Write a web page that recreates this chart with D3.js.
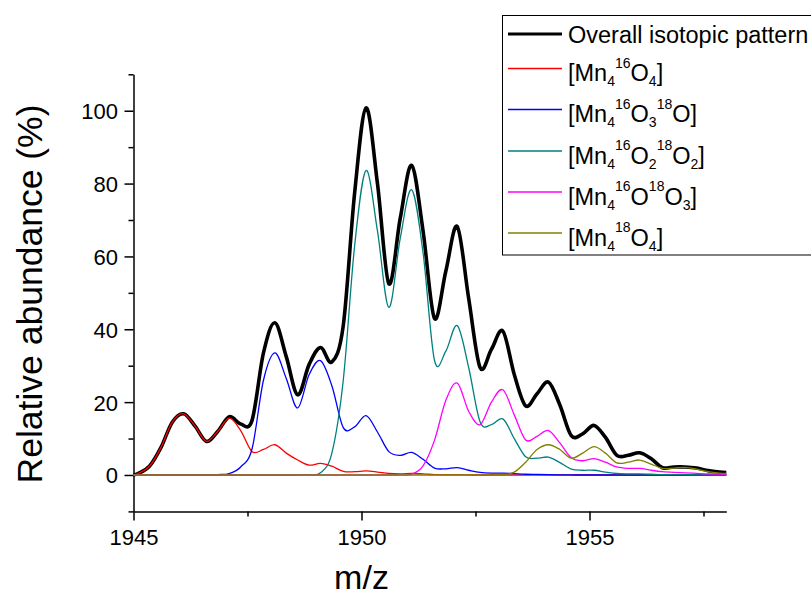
<!DOCTYPE html>
<html><head><meta charset="utf-8">
<script src="https://cdn.jsdelivr.net/npm/d3@7"></script>
<style>body{margin:0;background:#fff}svg{display:block}text{font-family:"Liberation Sans",Arial,sans-serif}</style>
</head><body>
<svg id="chart" width="811" height="595"></svg>
<script>
// m/z sample positions
const mz = [1945,
 1945.1,1945.35,1945.6,1945.85, 1946.1,1946.35,1946.6,1946.85,
 1947.1,1947.35,1947.6,1947.85, 1948.1,1948.35,1948.6,1948.85,
 1949.1,1949.35,1949.6,1949.85, 1950.1,1950.35,1950.6,1950.85,
 1951.1,1951.35,1951.6,1951.85, 1952.1,1952.35,1952.6,1952.85,
 1953.1,1953.35,1953.6,1953.85, 1954.1,1954.35,1954.6,1954.85,
 1955.1,1955.35,1955.6,1955.85, 1956.1,1956.35,1956.6,1956.85,
 1957.1,1957.35,1957.6,1957.85, 1958];

const overall = [0.1,
 0.4,2.4,7.5,14.5, 16.8,13.4,9.2,12.0,
 16.0,14.0,15.0,33.5, 41.8,32.5,22.0,30.3,
 35.0,31.0,41.0,77.5, 100.8,80.0,52.5,70.5,
 85.0,67.0,43.0,56.0, 68.2,48.5,29.5,34.5,
 39.5,27.6,19.0,22.3, 25.5,19.2,10.8,11.3,
 13.6,10.3,5.4,5.4, 6.1,4.5,2.0,2.2,
 2.2,1.9,1.2,0.8, 0.7];

const mn4_16O4 = [0.1,
 0.4,2.4,7.5,14.5, 16.8,13.4,9.2,12.0,
 15.6,12.2,6.4,7.0, 8.3,6.0,4.1,2.7,
 3.2,2.4,1.0,0.9, 1.1,0.8,0.4,0.3,
 0.4,0.3,0.1,0.05, 0.05,0,0,0,
 0,0,0,0, 0,0,0,0,
 0,0,0,0, 0,0,0,0,
 0,0,0,0, 0];

const mn4_16O3_18O = [0,
 0,0,0,0, 0,0,0,0.1,
 0.4,2.2,7.2,26.0, 33.5,26.5,18.4,27.5,
 31.4,24.5,13.0,13.2, 16.3,11.8,6.4,5.4,
 6.2,4.3,1.9,1.7, 2.0,1.3,0.7,0.5,
 0.5,0.35,0.2,0.15, 0.1,0.05,0,0,
 0,0,0,0, 0,0,0,0,
 0,0,0,0, 0];

const mn4_16O2_18O2 = [0,
 0,0,0,0, 0,0,0,0,
 0,0,0,0, 0,0,0,0.1,
 0.6,6.0,26.0,63.0, 83.6,67.0,46.0,65.0,
 78.3,61.0,31.5,34.0, 41.0,29.5,14.6,13.8,
 15.4,10.0,5.0,4.6, 4.9,3.4,1.6,1.3,
 1.3,0.8,0.4,0.3, 0.3,0.2,0.1,0.1,
 0.1,0.05,0,0, 0];

const mn4_16O_18O3 = [0,
 0,0,0,0, 0,0,0,0,
 0,0,0,0, 0,0,0,0,
 0,0,0,0, 0,0,0,0,
 0.2,2.5,9.5,20.5, 25.2,17.5,13.8,20.0,
 23.4,16.5,9.6,10.6, 12.2,8.8,4.7,3.9,
 4.5,3.5,2.2,1.8, 1.8,1.3,0.9,0.7,
 0.6,0.45,0.3,0.25, 0.2];

const mn4_18O4 = [0,
 0,0,0,0, 0,0,0,0,
 0,0,0,0, 0,0,0,0,
 0,0,0,0, 0,0,0,0,
 0,0,0,0, 0,0,0,0,
 0.1,0.8,3.5,7.0, 8.3,7.0,4.6,6.0,
 7.8,6.0,3.3,3.5, 4.1,3.0,1.8,1.9,
 2.1,1.6,0.9,0.5, 0.4];

const xTicks = [1945, 1950, 1955];
const xMinor = [1947.5, 1952.5, 1957.5];
const yTicks = [0, 20, 40, 60, 80, 100];
const yMinor = [-10, 10, 30, 50, 70, 90, 110];

const series = [
  {name: "overall", values: overall, color: "#000000", width: 3.6},
  {name: "16O4", values: mn4_16O4, color: "#ff0000", width: 1.3},
  {name: "16O3 18O", values: mn4_16O3_18O, color: "#0000ff", width: 1.3},
  {name: "16O2 18O2", values: mn4_16O2_18O2, color: "#008080", width: 1.3},
  {name: "16O 18O3", values: mn4_16O_18O3, color: "#ff00ff", width: 1.3},
  {name: "18O4", values: mn4_18O4, color: "#808000", width: 1.3}
];

const svg = d3.select("#chart");
const x = d3.scaleLinear().domain([1945, 1958]).range([133.5, 726.3]);
const y = d3.scaleLinear().domain([-10, 110]).range([511.4, 74.3]);

const xAx = svg.append("g").attr("transform", `translate(0,${y(-10)})`)
  .call(d3.axisBottom(x).tickValues(xTicks).tickSize(9).tickSizeOuter(0).tickFormat(d3.format("d")));
const xAxMinor = svg.append("g").attr("transform", `translate(0,${y(-10)})`)
  .call(d3.axisBottom(x).tickValues(xMinor).tickSize(5).tickSizeOuter(0).tickFormat(""));
const yAx = svg.append("g").attr("transform", `translate(${x(1945)},0)`)
  .call(d3.axisLeft(y).tickValues(yTicks).tickSize(9).tickSizeOuter(0));
const yAxMinor = svg.append("g").attr("transform", `translate(${x(1945)},0)`)
  .call(d3.axisLeft(y).tickValues(yMinor).tickSize(5).tickSizeOuter(0).tickFormat(""));
[xAx, xAxMinor, yAx, yAxMinor].forEach(g => {
  g.selectAll("path,line").attr("stroke", "#000").attr("stroke-width", 1.5);
  g.selectAll("text").attr("fill", "#000").style("font-size", "22px")
   .style("font-family", "'Liberation Sans', Arial, sans-serif");
});
xAx.selectAll("text").attr("y", 0).attr("dy", "34px");
xAxMinor.select(".domain").remove();
yAxMinor.select(".domain").remove();
yAx.selectAll("text").attr("x", -15.5).attr("dy", "0.36em");

// axis titles
svg.append("text").attr("x", x(1950)).attr("y", 589).attr("text-anchor", "middle")
  .style("font-size", "34px").text("m/z");
svg.append("text").attr("transform", `translate(42,294) rotate(-90)`)
  .attr("text-anchor", "middle").style("font-size", "35.5px").text("Relative abundance (%)");

// lines
const line = d3.line().x((d, i) => x(mz[i])).y(d => y(d)).curve(d3.curveCardinal.tension(0));
svg.append("g").selectAll("path").data(series).join("path")
  .attr("fill", "none")
  .attr("stroke", d => d.color)
  .attr("stroke-width", d => d.width)
  .attr("stroke-linejoin", "round")
  .attr("d", d => line(d.values));

// legend
const lg = svg.append("g");
lg.append("rect").attr("x", 502.5).attr("y", 15.5).attr("width", 320).attr("height", 239.5)
  .attr("fill", "#fff").attr("stroke", "#000").attr("stroke-width", 1);
const rowsY = [34, 68.5, 109.5, 151, 192, 233];
const labels = [
  [["Overall isotopic pattern", 0]],
  [["[Mn", 0], ["4", 1], ["16", -1], ["O", 0], ["4", 1], ["]", 0]],
  [["[Mn", 0], ["4", 1], ["16", -1], ["O", 0], ["3", 1], ["18", -1], ["O]", 0]],
  [["[Mn", 0], ["4", 1], ["16", -1], ["O", 0], ["2", 1], ["18", -1], ["O", 0], ["2", 1], ["]", 0]],
  [["[Mn", 0], ["4", 1], ["16", -1], ["O", 0], ["18", -1], ["O", 0], ["3", 1], ["]", 0]],
  [["[Mn", 0], ["4", 1], ["18", -1], ["O", 0], ["4", 1], ["]", 0]]
];
series.forEach((s, i) => {
  const yy = rowsY[i];
  lg.append("line").attr("x1", 508).attr("x2", 562).attr("y1", yy).attr("y2", yy)
    .attr("stroke", s.color).attr("stroke-width", i === 0 ? 3.2 : 1.5);
  const t = lg.append("text").attr("x", 568).attr("y", i === 0 ? yy + 8.5 : yy + 12.5)
    .style("font-size", "23.5px").attr("fill", "#000");
  let prev = 0;
  labels[i].forEach(([txt, kind]) => {
    const off = kind === 1 ? 5 : (kind === -1 ? -13.5 : 0);
    t.append("tspan").attr("dy", off - prev)
      .style("font-size", kind === 0 ? "23.5px" : "14px").text(txt);
    prev = off;
  });
});
</script>
</body></html>
